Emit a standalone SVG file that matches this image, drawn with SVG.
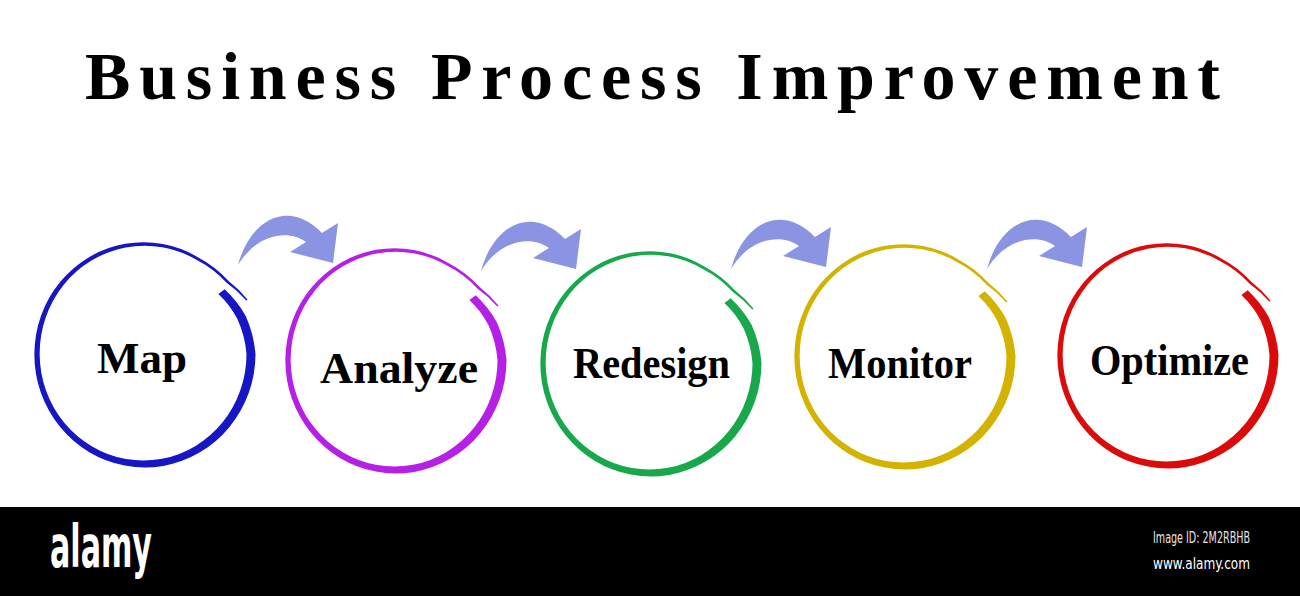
<svg xmlns="http://www.w3.org/2000/svg" xmlns:xlink="http://www.w3.org/1999/xlink" width="1300" height="596" viewBox="0 0 1300 596">
<style>
.title{font-family:"Liberation Serif","Times New Roman",serif;font-weight:bold;font-size:68px;fill:#000}
.lbl{font-family:"Liberation Serif","Times New Roman",serif;font-weight:bold;font-size:45px;fill:#000}
.logo{font-family:"DejaVu Sans Condensed","DejaVu Sans",sans-serif;font-weight:bold;font-size:58px;fill:#fff}
.small{font-family:"DejaVu Sans Condensed","DejaVu Sans",sans-serif;font-size:15px;fill:#e6e6e6}
.arrow{fill:#8b94e2}
</style>
<defs>
<path id="ring" fill="currentColor" stroke="none" d="M80.7,-64.8
A106 109 0 0 1 101.7,-38
A111 114 0 0 1 111.5,0
A111 114 0 0 1 104.7,39.1
A111 114 0 0 1 85.1,73.4
A111 114 0 0 1 55.5,98.6
A111 114 0 0 1 19.2,111.9
A111 114 0 0 1 -19.2,111.6
A110 113 0 0 1 -55.1,98
A110 113 0 0 1 -84.2,72.6
A110 113 0 0 1 -103.2,38.6
A110 113 0 0 1 -109.65,0
A110 113 0 0 1 -102.9,-38.5
A109 112 0 0 1 -83.7,-72.2
A109 112 0 0 1 -54.6,-97.1
A109 112 0 0 1 -18.9,-110.2
A109 112 0 0 1 18.9,-110
A109 112 0 0 1 54.3,-96.6
A110 113 0 0 1 84.6,-73
A115 118 0 0 1 103.6,-54.3
L102.3,-53.6
A114 117 0 0 0 82.6,-71.3
A107 110 0 0 0 52.8,-94
A105 108 0 0 0 18.3,-106.7
A105 108 0 0 0 -18.3,-106.5
A105 108 0 0 0 -52.5,-93.4
A105 108 0 0 0 -80.2,-69.3
A104 107 0 0 0 -98.2,-36.8
A104 107 0 0 0 -104.35,0
A104 107 0 0 0 -97.9,36.7
A104 107 0 0 0 -79.7,68.8
A104 107 0 0 0 -51.9,92.5
A103 106 0 0 0 -18,105.1
A103 106 0 0 0 18,104.8
A103 106 0 0 0 51.6,91.9
A103 106 0 0 0 78.8,68.1
A102 105 0 0 0 96.4,36.1
A102 105 0 0 0 102.5,0
A99 102 0 0 0 93.4,-35
A94 97 0 0 0 74.4,-59.9
Z"/>
<path id="arr" d="M238,265 C250,220 288,198 322,233 L338,223 L333,263 L290,252 L306,242 C290,230 258,232 238,265 Z"/>
</defs>
<rect x="0" y="0" width="1300" height="596" fill="#fff"/>
<text class="title" x="85" y="99" textLength="1135" lengthAdjust="spacing">Business Process Improvement</text>

<g id="connectors">
<use xlink:href="#arr" class="arrow"/>
<use xlink:href="#arr" class="arrow" transform="translate(243,6)"/>
<use xlink:href="#arr" class="arrow" transform="translate(493,4)"/>
<use xlink:href="#arr" class="arrow" transform="translate(749,4)"/>
</g>

<g id="node-map">
<use xlink:href="#ring" transform="translate(144,354)" style="color:#1616c4"/>
<text class="lbl" x="97" y="373" textLength="90" lengthAdjust="spacingAndGlyphs">Map</text>
</g>
<g id="node-analyze">
<use xlink:href="#ring" transform="translate(395,360)" style="color:#b51fe6"/>
<text class="lbl" x="320" y="383" textLength="158" lengthAdjust="spacingAndGlyphs">Analyze</text>
</g>
<g id="node-redesign">
<use xlink:href="#ring" transform="translate(650,363)" style="color:#17a84b"/>
<text class="lbl" x="573" y="378" textLength="157" lengthAdjust="spacingAndGlyphs">Redesign</text>
</g>
<g id="node-monitor">
<use xlink:href="#ring" transform="translate(904,356)" style="color:#d4b300"/>
<text class="lbl" x="828" y="378" textLength="144" lengthAdjust="spacingAndGlyphs">Monitor</text>
</g>
<g id="node-optimize">
<use xlink:href="#ring" transform="translate(1167,355)" style="color:#dc0b0b"/>
<text class="lbl" x="1090" y="375" textLength="159" lengthAdjust="spacingAndGlyphs">Optimize</text>
</g>

<g id="footer">
<rect x="0" y="507" width="1300" height="89" fill="#000"/>
<text class="logo" x="50" y="567" textLength="102" lengthAdjust="spacingAndGlyphs">alamy</text>
<text class="small" x="1153" y="543" textLength="97" lengthAdjust="spacingAndGlyphs">Image ID: 2M2RBHB</text>
<text class="small" x="1153" y="569" textLength="97" lengthAdjust="spacingAndGlyphs" style="fill:#fff;font-size:16px">www.alamy.com</text>
</g>
</svg>
